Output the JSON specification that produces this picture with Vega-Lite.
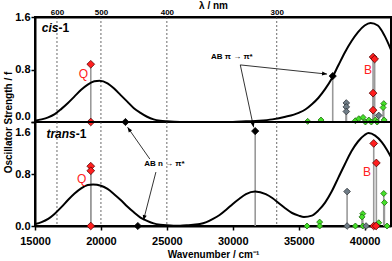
{
  "$schema": "https://vega.github.io/schema/vega-lite/v6.json",
  "background": "white",
  "padding": {"left": 2, "top": -1, "right": 2, "bottom": 0},
  "spacing": 0,
  "bounds": "flush",
  "config": {
    "font": "Liberation Sans",
    "view": {"stroke": "black", "strokeWidth": 2},
    "axis": {"labelFontWeight": "bold", "titleFontWeight": "bold", "labelColor": "black", "titleColor": "black", "domainColor": "black", "domainWidth": 2, "tickColor": "black", "tickWidth": 1.5, "grid": false, "labelFlush": false}
  },
  "datasets": {
    "curves": [
      {"panel": "cis", "wn": 15000, "f": 0.02}, {"panel": "cis", "wn": 15500, "f": 0.04}, {"panel": "cis", "wn": 16000, "f": 0.07}, {"panel": "cis", "wn": 16500, "f": 0.12}, {"panel": "cis", "wn": 17000, "f": 0.2}, {"panel": "cis", "wn": 17500, "f": 0.29}, {"panel": "cis", "wn": 18000, "f": 0.39}, {"panel": "cis", "wn": 18500, "f": 0.49}, {"panel": "cis", "wn": 19000, "f": 0.57}, {"panel": "cis", "wn": 19500, "f": 0.62}, {"panel": "cis", "wn": 19900, "f": 0.63}, {"panel": "cis", "wn": 20500, "f": 0.59}, {"panel": "cis", "wn": 21000, "f": 0.51}, {"panel": "cis", "wn": 21500, "f": 0.41}, {"panel": "cis", "wn": 22000, "f": 0.31}, {"panel": "cis", "wn": 22500, "f": 0.21}, {"panel": "cis", "wn": 23000, "f": 0.14}, {"panel": "cis", "wn": 23500, "f": 0.08}, {"panel": "cis", "wn": 24000, "f": 0.04}, {"panel": "cis", "wn": 24500, "f": 0.02}, {"panel": "cis", "wn": 25000, "f": 0.01}, {"panel": "cis", "wn": 26000, "f": 0.0}, {"panel": "cis", "wn": 28000, "f": 0.0}, {"panel": "cis", "wn": 30000, "f": 0.0}, {"panel": "cis", "wn": 31000, "f": 0.01}, {"panel": "cis", "wn": 32000, "f": 0.02}, {"panel": "cis", "wn": 33000, "f": 0.04}, {"panel": "cis", "wn": 34000, "f": 0.08}, {"panel": "cis", "wn": 35000, "f": 0.14}, {"panel": "cis", "wn": 35500, "f": 0.19}, {"panel": "cis", "wn": 36000, "f": 0.27}, {"panel": "cis", "wn": 36500, "f": 0.37}, {"panel": "cis", "wn": 37000, "f": 0.5}, {"panel": "cis", "wn": 37500, "f": 0.66}, {"panel": "cis", "wn": 38000, "f": 0.86}, {"panel": "cis", "wn": 38500, "f": 1.06}, {"panel": "cis", "wn": 39000, "f": 1.23}, {"panel": "cis", "wn": 39500, "f": 1.37}, {"panel": "cis", "wn": 40000, "f": 1.47}, {"panel": "cis", "wn": 40450, "f": 1.51}, {"panel": "cis", "wn": 41000, "f": 1.47}, {"panel": "cis", "wn": 41500, "f": 1.32}, {"panel": "cis", "wn": 42000, "f": 1.1},
      {"panel": "trans", "wn": 15000, "f": 0.03}, {"panel": "trans", "wn": 15500, "f": 0.06}, {"panel": "trans", "wn": 16000, "f": 0.11}, {"panel": "trans", "wn": 16500, "f": 0.19}, {"panel": "trans", "wn": 17000, "f": 0.29}, {"panel": "trans", "wn": 17500, "f": 0.4}, {"panel": "trans", "wn": 18000, "f": 0.5}, {"panel": "trans", "wn": 18500, "f": 0.58}, {"panel": "trans", "wn": 19000, "f": 0.63}, {"panel": "trans", "wn": 19400, "f": 0.64}, {"panel": "trans", "wn": 20000, "f": 0.62}, {"panel": "trans", "wn": 20500, "f": 0.57}, {"panel": "trans", "wn": 21000, "f": 0.49}, {"panel": "trans", "wn": 21500, "f": 0.4}, {"panel": "trans", "wn": 22000, "f": 0.3}, {"panel": "trans", "wn": 22500, "f": 0.21}, {"panel": "trans", "wn": 23000, "f": 0.13}, {"panel": "trans", "wn": 23500, "f": 0.08}, {"panel": "trans", "wn": 24000, "f": 0.04}, {"panel": "trans", "wn": 24500, "f": 0.02}, {"panel": "trans", "wn": 25000, "f": 0.01}, {"panel": "trans", "wn": 25500, "f": 0.005}, {"panel": "trans", "wn": 26000, "f": 0.005}, {"panel": "trans", "wn": 26500, "f": 0.01}, {"panel": "trans", "wn": 27000, "f": 0.02}, {"panel": "trans", "wn": 27500, "f": 0.03}, {"panel": "trans", "wn": 28000, "f": 0.06}, {"panel": "trans", "wn": 28500, "f": 0.11}, {"panel": "trans", "wn": 29000, "f": 0.17}, {"panel": "trans", "wn": 29500, "f": 0.25}, {"panel": "trans", "wn": 30000, "f": 0.34}, {"panel": "trans", "wn": 30500, "f": 0.42}, {"panel": "trans", "wn": 31000, "f": 0.49}, {"panel": "trans", "wn": 31700, "f": 0.53}, {"panel": "trans", "wn": 32500, "f": 0.49}, {"panel": "trans", "wn": 33000, "f": 0.43}, {"panel": "trans", "wn": 33500, "f": 0.35}, {"panel": "trans", "wn": 34000, "f": 0.27}, {"panel": "trans", "wn": 34500, "f": 0.2}, {"panel": "trans", "wn": 35000, "f": 0.16}, {"panel": "trans", "wn": 35400, "f": 0.14}, {"panel": "trans", "wn": 36000, "f": 0.16}, {"panel": "trans", "wn": 36500, "f": 0.24}, {"panel": "trans", "wn": 37000, "f": 0.36}, {"panel": "trans", "wn": 37500, "f": 0.53}, {"panel": "trans", "wn": 38000, "f": 0.74}, {"panel": "trans", "wn": 38500, "f": 0.95}, {"panel": "trans", "wn": 39000, "f": 1.15}, {"panel": "trans", "wn": 39500, "f": 1.3}, {"panel": "trans", "wn": 40000, "f": 1.4}, {"panel": "trans", "wn": 40300, "f": 1.43}, {"panel": "trans", "wn": 40800, "f": 1.39}, {"panel": "trans", "wn": 41300, "f": 1.29}, {"panel": "trans", "wn": 41700, "f": 1.17}, {"panel": "trans", "wn": 42000, "f": 1.06}
    ],
    "trans": [
      {"panel": "cis", "wn": 35680, "f": 0.01, "kind": "green"}, {"panel": "cis", "wn": 36690, "f": 0.03, "kind": "green"}, {"panel": "cis", "wn": 39300, "f": 0.02, "kind": "green"}, {"panel": "cis", "wn": 39560, "f": 0.05, "kind": "green"}, {"panel": "cis", "wn": 39880, "f": 0.07, "kind": "green"}, {"panel": "cis", "wn": 40060, "f": 0.0, "kind": "green"}, {"panel": "cis", "wn": 40320, "f": 0.03, "kind": "green"}, {"panel": "cis", "wn": 40510, "f": 0.0, "kind": "green"}, {"panel": "cis", "wn": 40820, "f": 0.03, "kind": "green"}, {"panel": "cis", "wn": 40950, "f": 0.0, "kind": "green"}, {"panel": "cis", "wn": 41450, "f": 0.28, "kind": "green"}, {"panel": "cis", "wn": 41400, "f": 0.22, "kind": "green"}, {"panel": "cis", "wn": 41480, "f": 0.03, "kind": "green"},
      {"panel": "cis", "wn": 38610, "f": 0.29, "kind": "gray"}, {"panel": "cis", "wn": 38610, "f": 0.23, "kind": "gray"}, {"panel": "cis", "wn": 38610, "f": 0.16, "kind": "gray"}, {"panel": "cis", "wn": 41070, "f": 0.1, "kind": "gray"},
      {"panel": "cis", "wn": 21860, "f": 0.0, "kind": "black"}, {"panel": "cis", "wn": 37580, "f": 0.7, "kind": "black"},
      {"panel": "cis", "wn": 19230, "f": 0.88, "kind": "red"}, {"panel": "cis", "wn": 19230, "f": 0.0, "kind": "red"}, {"panel": "cis", "wn": 40640, "f": 0.99, "kind": "red"}, {"panel": "cis", "wn": 40760, "f": 0.96, "kind": "red"}, {"panel": "cis", "wn": 40640, "f": 0.44, "kind": "red"}, {"panel": "cis", "wn": 40640, "f": 0.18, "kind": "red"},
      {"panel": "trans", "wn": 35630, "f": 0.0, "kind": "green"}, {"panel": "trans", "wn": 36590, "f": 0.06, "kind": "green"}, {"panel": "trans", "wn": 36590, "f": 0.0, "kind": "green"}, {"panel": "trans", "wn": 39300, "f": 0.0, "kind": "green"}, {"panel": "trans", "wn": 39860, "f": 0.19, "kind": "green"}, {"panel": "trans", "wn": 39800, "f": 0.14, "kind": "green"}, {"panel": "trans", "wn": 39860, "f": 0.0, "kind": "green"}, {"panel": "trans", "wn": 41070, "f": 0.05, "kind": "green"}, {"panel": "trans", "wn": 41700, "f": 0.0, "kind": "green"}, {"panel": "trans", "wn": 41450, "f": 0.5, "kind": "green"}, {"panel": "trans", "wn": 41500, "f": 0.36, "kind": "green"},
      {"panel": "trans", "wn": 38670, "f": 0.53, "kind": "gray"}, {"panel": "trans", "wn": 38670, "f": 0.0, "kind": "gray"}, {"panel": "trans", "wn": 40110, "f": 0.0, "kind": "gray"},
      {"panel": "trans", "wn": 22800, "f": 0.0, "kind": "black"}, {"panel": "trans", "wn": 31700, "f": 1.46, "kind": "black"},
      {"panel": "trans", "wn": 19230, "f": 0.92, "kind": "red"}, {"panel": "trans", "wn": 19230, "f": 0.85, "kind": "red"}, {"panel": "trans", "wn": 19230, "f": 0.0, "kind": "red"}, {"panel": "trans", "wn": 40690, "f": 1.27, "kind": "red"}, {"panel": "trans", "wn": 40890, "f": 0.97, "kind": "red"}, {"panel": "trans", "wn": 40690, "f": 0.0, "kind": "red"}, {"panel": "trans", "wn": 40870, "f": 0.0, "kind": "red"}
    ],
    "grid": [{"wn": 16667}, {"wn": 20000}, {"wn": 25000}, {"wn": 33333}],
    "labels": [
      {"panel": "cis", "wn": 16777, "f": 1.44, "text": "cis", "kind": "it"}, {"panel": "cis", "wn": 16777, "f": 1.44, "text": "-1", "kind": "up"},
      {"panel": "trans", "wn": 18090, "f": 1.42, "text": "trans", "kind": "it"}, {"panel": "trans", "wn": 18090, "f": 1.42, "text": "-1", "kind": "up"},
      {"panel": "cis", "wn": 18675, "f": 0.73, "text": "Q", "kind": "state"}, {"panel": "trans", "wn": 18546, "f": 0.73, "text": "Q", "kind": "state"},
      {"panel": "cis", "wn": 40260, "f": 0.8, "text": "B", "kind": "state"}, {"panel": "trans", "wn": 40185, "f": 0.83, "text": "B", "kind": "state"},
      {"panel": "cis", "wn": 29930, "f": 0.99, "text": "AB π →  π*", "kind": "ab"}, {"panel": "trans", "wn": 24810, "f": 0.95, "text": "AB n →  π*", "kind": "ab"}
    ],
    "arrows": [
      {"panel": "cis", "id": "a1", "wn": 30570, "f": 0.87, "wn2": 37150, "f2": 0.73},
      {"panel": "cis", "id": "a2", "wn": 30570, "f": 0.87, "wn2": 31580, "f2": -0.08},
      {"panel": "trans", "id": "b1", "wn": 24170, "f": 0.83, "wn2": 23230, "f2": 0.09},
      {"panel": "trans", "id": "b2", "wn": 23710, "f": 1.03, "wn2": 22020, "f2": 1.52}
    ]
  },
  "vconcat": [
    {
      "width": 356,
      "height": 105,
      "layer": [
        {
          "data": {"name": "grid"},
          "mark": {"type": "rule", "strokeDash": [2, 2], "color": "#444", "strokeWidth": 0.8},
          "encoding": {
            "x": {"field": "wn", "type": "quantitative", "scale": {"domain": [15000, 42000], "nice": false, "zero": false},
              "axis": {"orient": "top", "values": [16667, 20000, 25000, 33333], "labelExpr": "format(1e7/datum.value, '.0f')", "ticks": false, "labelPadding": 1, "labelFontSize": 8, "title": "λ / nm", "titleFontSize": 10, "titleY": -8.5, "titleBaseline": "alphabetic"}}
          }
        },
        {
          "data": {"name": "trans"},
          "transform": [{"filter": "datum.panel == 'cis'"}],
          "mark": {"type": "rule", "color": "#999999", "strokeWidth": 1.6},
          "encoding": {
            "x": {"field": "wn", "type": "quantitative"},
            "y": {"field": "f", "type": "quantitative", "scale": {"domain": [0, 1.6], "nice": false},
              "axis": {"values": [0, 0.8, 1.6], "format": ".1f", "labelFontSize": 11, "tickSize": 4, "labelPadding": 1, "labelOffset": {"condition": {"test": "datum.value == 0", "value": -6}, "value": 0}, "title": "Oscillator Strength / f", "titleFontSize": 10, "titleX": -22, "titleY": 105, "titleAlign": "center", "titleBaseline": "bottom", "titleAngle": -90}},
            "y2": {"datum": 0}
          }
        },
        {
          "data": {"name": "curves"},
          "transform": [{"filter": "datum.panel == 'cis'"}],
          "mark": {"type": "line", "color": "black", "strokeWidth": 2, "interpolate": "monotone"},
          "encoding": {"x": {"field": "wn", "type": "quantitative"}, "y": {"field": "f", "type": "quantitative"}}
        },
        {
          "data": {"name": "trans"},
          "transform": [{"filter": "datum.panel == 'cis'"}],
          "mark": {"type": "point", "shape": "diamond", "filled": true, "opacity": 1, "strokeWidth": 0.8},
          "encoding": {
            "x": {"field": "wn", "type": "quantitative"}, "y": {"field": "f", "type": "quantitative"},
            "color": {"field": "kind", "type": "nominal", "scale": {"domain": ["red", "black", "gray", "green"], "range": ["#ff1f1f", "#000000", "#6f7c86", "#45e02a"]}, "legend": null},
            "stroke": {"field": "kind", "type": "nominal", "scale": {"domain": ["red", "black", "gray", "green"], "range": ["#5a0000", "#000000", "#2f3438", "#1d6b0b"]}, "legend": null},
            "size": {"field": "kind", "type": "nominal", "scale": {"domain": ["red", "black", "gray", "green"], "range": [60, 36, 60, 26]}, "legend": null}
          }
        },
        {
          "data": {"name": "labels"},
          "transform": [{"filter": "datum.panel == 'cis' && datum.kind == 'it'"}],
          "mark": {"type": "text", "align": "right", "baseline": "middle", "fontSize": 12, "fontWeight": "bold", "fontStyle": "italic", "color": "black"},
          "encoding": {"x": {"field": "wn", "type": "quantitative"}, "y": {"field": "f", "type": "quantitative"}, "text": {"field": "text"}}
        },
        {
          "data": {"name": "labels"},
          "transform": [{"filter": "datum.panel == 'cis' && datum.kind == 'up'"}],
          "mark": {"type": "text", "align": "left", "baseline": "middle", "fontSize": 12, "fontWeight": "bold", "color": "black"},
          "encoding": {"x": {"field": "wn", "type": "quantitative"}, "y": {"field": "f", "type": "quantitative"}, "text": {"field": "text"}}
        },
        {
          "data": {"name": "labels"},
          "transform": [{"filter": "datum.panel == 'cis' && datum.kind == 'state'"}],
          "mark": {"type": "text", "align": "center", "baseline": "middle", "fontSize": 12, "color": "#ff2020"},
          "encoding": {"x": {"field": "wn", "type": "quantitative"}, "y": {"field": "f", "type": "quantitative"}, "text": {"field": "text"}}
        },
        {
          "data": {"name": "labels"},
          "transform": [{"filter": "datum.panel == 'cis' && datum.kind == 'ab'"}],
          "mark": {"type": "text", "align": "center", "baseline": "middle", "fontSize": 8, "fontWeight": "bold", "color": "black"},
          "encoding": {"x": {"field": "wn", "type": "quantitative"}, "y": {"field": "f", "type": "quantitative"}, "text": {"field": "text"}}
        },
        {
          "data": {"name": "arrows"},
          "transform": [{"filter": "datum.panel == 'cis'"}],
          "mark": {"type": "rule", "color": "black", "strokeWidth": 0.8},
          "encoding": {"x": {"field": "wn", "type": "quantitative"}, "y": {"field": "f", "type": "quantitative"}, "x2": {"field": "wn2"}, "y2": {"field": "f2"}}
        },
        {
          "data": {"name": "arrows"},
          "transform": [{"filter": "datum.id == 'a1'"}],
          "mark": {"type": "point", "shape": "M0,0L-0.4,1L0.4,1Z", "filled": true, "color": "black", "opacity": 1, "size": 100, "angle": 96},
          "encoding": {"x": {"field": "wn2", "type": "quantitative"}, "y": {"field": "f2", "type": "quantitative"}}
        },
        {
          "data": {"name": "arrows"},
          "transform": [{"filter": "datum.id == 'a2'"}],
          "mark": {"type": "point", "shape": "M0,0L-0.4,1L0.4,1Z", "filled": true, "color": "black", "opacity": 1, "size": 100, "angle": 168},
          "encoding": {"x": {"field": "wn2", "type": "quantitative"}, "y": {"field": "f2", "type": "quantitative"}}
        }
      ]
    },
    {
      "width": 356,
      "height": 104,
      "layer": [
        {
          "data": {"name": "grid"},
          "mark": {"type": "rule", "strokeDash": [2, 2], "color": "#444", "strokeWidth": 0.8},
          "encoding": {
            "x": {"field": "wn", "type": "quantitative", "scale": {"domain": [15000, 42000], "nice": false, "zero": false},
              "axis": {"orient": "bottom", "values": [15000, 20000, 25000, 30000, 35000, 40000], "format": "d", "labelFontSize": 11, "tickSize": 4, "labelPadding": 5, "title": "Wavenumber / cm⁻¹", "titleFontSize": 10, "titlePadding": 3}}
          }
        },
        {
          "data": {"name": "trans"},
          "transform": [{"filter": "datum.panel == 'trans'"}],
          "mark": {"type": "rule", "color": "#999999", "strokeWidth": 1.6},
          "encoding": {
            "x": {"field": "wn", "type": "quantitative"},
            "y": {"field": "f", "type": "quantitative", "scale": {"domain": [0, 1.6], "nice": false},
              "axis": {"values": [0, 0.8, 1.6], "format": ".1f", "labelFontSize": 11, "tickSize": 4, "labelPadding": 1, "labelOffset": {"condition": {"test": "datum.value == 1.6", "value": 10}, "value": 0}, "title": null}},
            "y2": {"datum": 0}
          }
        },
        {
          "data": {"name": "curves"},
          "transform": [{"filter": "datum.panel == 'trans'"}],
          "mark": {"type": "line", "color": "black", "strokeWidth": 2, "interpolate": "monotone"},
          "encoding": {"x": {"field": "wn", "type": "quantitative"}, "y": {"field": "f", "type": "quantitative"}}
        },
        {
          "data": {"name": "trans"},
          "transform": [{"filter": "datum.panel == 'trans'"}],
          "mark": {"type": "point", "shape": "diamond", "filled": true, "opacity": 1, "strokeWidth": 0.8},
          "encoding": {
            "x": {"field": "wn", "type": "quantitative"}, "y": {"field": "f", "type": "quantitative"},
            "color": {"field": "kind", "type": "nominal", "scale": {"domain": ["red", "black", "gray", "green"], "range": ["#ff1f1f", "#000000", "#6f7c86", "#45e02a"]}, "legend": null},
            "stroke": {"field": "kind", "type": "nominal", "scale": {"domain": ["red", "black", "gray", "green"], "range": ["#5a0000", "#000000", "#2f3438", "#1d6b0b"]}, "legend": null},
            "size": {"field": "kind", "type": "nominal", "scale": {"domain": ["red", "black", "gray", "green"], "range": [60, 36, 60, 26]}, "legend": null}
          }
        },
        {
          "data": {"name": "labels"},
          "transform": [{"filter": "datum.panel == 'trans' && datum.kind == 'it'"}],
          "mark": {"type": "text", "align": "right", "baseline": "middle", "fontSize": 12, "fontWeight": "bold", "fontStyle": "italic", "color": "black"},
          "encoding": {"x": {"field": "wn", "type": "quantitative"}, "y": {"field": "f", "type": "quantitative"}, "text": {"field": "text"}}
        },
        {
          "data": {"name": "labels"},
          "transform": [{"filter": "datum.panel == 'trans' && datum.kind == 'up'"}],
          "mark": {"type": "text", "align": "left", "baseline": "middle", "fontSize": 12, "fontWeight": "bold", "color": "black"},
          "encoding": {"x": {"field": "wn", "type": "quantitative"}, "y": {"field": "f", "type": "quantitative"}, "text": {"field": "text"}}
        },
        {
          "data": {"name": "labels"},
          "transform": [{"filter": "datum.panel == 'trans' && datum.kind == 'state'"}],
          "mark": {"type": "text", "align": "center", "baseline": "middle", "fontSize": 12, "color": "#ff2020"},
          "encoding": {"x": {"field": "wn", "type": "quantitative"}, "y": {"field": "f", "type": "quantitative"}, "text": {"field": "text"}}
        },
        {
          "data": {"name": "labels"},
          "transform": [{"filter": "datum.panel == 'trans' && datum.kind == 'ab'"}],
          "mark": {"type": "text", "align": "center", "baseline": "middle", "fontSize": 8, "fontWeight": "bold", "color": "black"},
          "encoding": {"x": {"field": "wn", "type": "quantitative"}, "y": {"field": "f", "type": "quantitative"}, "text": {"field": "text"}}
        },
        {
          "data": {"name": "arrows"},
          "transform": [{"filter": "datum.panel == 'trans'"}],
          "mark": {"type": "rule", "color": "black", "strokeWidth": 0.8},
          "encoding": {"x": {"field": "wn", "type": "quantitative"}, "y": {"field": "f", "type": "quantitative"}, "x2": {"field": "wn2"}, "y2": {"field": "f2"}}
        },
        {
          "data": {"name": "arrows"},
          "transform": [{"filter": "datum.id == 'b1'"}],
          "mark": {"type": "point", "shape": "M0,0L-0.4,1L0.4,1Z", "filled": true, "color": "black", "opacity": 1, "size": 100, "angle": 194},
          "encoding": {"x": {"field": "wn2", "type": "quantitative"}, "y": {"field": "f2", "type": "quantitative"}}
        },
        {
          "data": {"name": "arrows"},
          "transform": [{"filter": "datum.id == 'b2'"}],
          "mark": {"type": "point", "shape": "M0,0L-0.4,1L0.4,1Z", "filled": true, "color": "black", "opacity": 1, "size": 100, "angle": 325},
          "encoding": {"x": {"field": "wn2", "type": "quantitative"}, "y": {"field": "f2", "type": "quantitative"}}
        }
      ]
    }
  ]
}
